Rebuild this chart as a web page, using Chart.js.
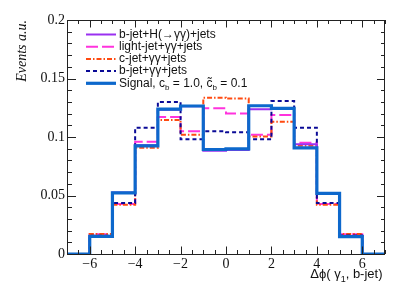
<!DOCTYPE html>
<html>
<head>
<meta charset="utf-8">
<script src="https://cdn.jsdelivr.net/npm/chart.js@4/dist/chart.umd.min.js"></script>
<style>
html,body{margin:0;padding:0;background:#fff;}
#wrap{width:400px;height:294px;position:relative;}
</style>
</head>
<body>
<div id="wrap"><canvas id="c" width="400" height="294"></canvas></div>
<script>
// Bin edges (x) of the histograms
const binEdges = [-7,-6,-5,-4,-3,-2,-1,0,1,2,3,4,5,6,7];
// Bin contents (14 bins)
const signal    = [0, 0.0150, 0.0522, 0.0924, 0.1238, 0.1265, 0.0893, 0.0898, 0.1267, 0.1245, 0.0907, 0.0519, 0.0148, 0];
const bjetH     = [0, 0.0152, 0.0525, 0.0930, 0.1232, 0.1262, 0.0883, 0.0889, 0.1237, 0.1240, 0.0937, 0.0522, 0.0150, 0];
const lightJet  = [0, 0.0168, 0.0428, 0.0960, 0.1170, 0.1050, 0.1245, 0.1200, 0.1020, 0.1188, 0.0950, 0.0428, 0.0168, 0];
const cJet      = [0, 0.0172, 0.0420, 0.0908, 0.1145, 0.1020, 0.1335, 0.1328, 0.1005, 0.1130, 0.0925, 0.0420, 0.0172, 0];
const bJet      = [0, 0.0155, 0.0435, 0.1080, 0.1300, 0.0980, 0.1050, 0.1040, 0.0980, 0.1308, 0.1080, 0.0435, 0.0158, 0];
// Tick labels
const xTickValues = [-6,-4,-2,0,2,4,6];
const xTickLabels = ['\u22126','\u22124','\u22122','0','2','4','6'];
const yTickValues = [0,0.05,0.1,0.15,0.2];
const yTickLabels = ['0','0.05','0.1','0.15','0.2'];
const legendLabels = ['b-jet+H(\u2192\u03b3\u03b3)+jets','light-jet+\u03b3\u03b3+jets','c-jet+\u03b3\u03b3+jets','b-jet+\u03b3\u03b3+jets','Signal, c_{b} = 1.0, c\u0303_{b} = 0.1'];
const xTitle = '\u0394\u03d5( \u03b3_{1}, b-jet)';
const yTitle = 'Events a.u.';

function toPoints(vals){
  const pts = vals.map((v,i)=>({x:binEdges[i], y:v}));
  pts.push({x:binEdges[binEdges.length-1], y:vals[vals.length-1]});
  return pts;
}

const series = [
  {label: legendLabels[0], data: bjetH,    color:'#9a30f0', width:2,   dash:[],          order:1},
  {label: legendLabels[1], data: lightJet, color:'#ff33dd', width:2,   dash:[12,4],      order:4},
  {label: legendLabels[2], data: cJet,     color:'#ff4a10', width:2,   dash:[5,2,1.5,2], order:3},
  {label: legendLabels[3], data: bJet,     color:'#0a0a96', width:2,   dash:[4,3],       order:2},
  {label: legendLabels[4], data: signal,   color:'#0d68cc', width:3.2, dash:[],          order:0}
];

const datasets = series.map(s=>({
  label: s.label,
  data: toPoints(s.data),
  borderColor: s.color,
  borderWidth: s.width,
  borderDash: s.dash,
  stepped: true,
  fill: false,
  pointRadius: 0,
  order: s.order,
  tension: 0
}));

function drawRich(ctx, text, x, y, size, family, subDrop){
  const parts = [];
  const re = /_\{([^}]*)\}/g;
  let last = 0, m;
  while((m = re.exec(text))){
    if(m.index>last) parts.push({t:text.slice(last,m.index), sub:false});
    parts.push({t:m[1], sub:true});
    last = re.lastIndex;
  }
  if(last<text.length) parts.push({t:text.slice(last), sub:false});
  let cx = x;
  ctx.textAlign='left';
  ctx.textBaseline='middle';
  for(const p of parts){
    if(p.sub){
      ctx.font = Math.round(size*0.7)+'px '+family;
      ctx.fillText(p.t, cx, y+size*(subDrop||0.35));
    } else {
      ctx.font = size+'px '+family;
      ctx.fillText(p.t, cx, y);
    }
    cx += ctx.measureText(p.t).width;
  }
  return cx - x;
}
function measureRich(ctx, text, size, family){
  const re = /_\{([^}]*)\}/g;
  let w=0,last=0,m;
  while((m=re.exec(text))){
    ctx.font = size+'px '+family; w += ctx.measureText(text.slice(last,m.index)).width;
    ctx.font = Math.round(size*0.7)+'px '+family; w += ctx.measureText(m[1]).width;
    last = re.lastIndex;
  }
  ctx.font = size+'px '+family; w += ctx.measureText(text.slice(last)).width;
  return w;
}

const framePlugin = {
  id:'frame',
  afterDatasetsDraw(chart){
    const ctx = chart.ctx, a = chart.chartArea;
    const xs = chart.scales.x, ys = chart.scales.y;
    ctx.save();
    ctx.strokeStyle = '#222';
    ctx.lineWidth = 1;
    ctx.setLineDash([]);
    ctx.strokeRect(Math.round(a.left)+0.5, Math.round(a.top)+0.5, Math.round(a.right-a.left)-1, Math.round(a.bottom-a.top));
    ctx.beginPath();
    for(let k=-14;k<=14;k++){
      const v = k*0.5;
      const px = Math.round(xs.getPixelForValue(v))+0.5;
      const major = xTickValues.includes(v);
      const len = major ? 7.5 : 4;
      ctx.moveTo(px, a.bottom); ctx.lineTo(px, a.bottom-len);
      ctx.moveTo(px, a.top); ctx.lineTo(px, a.top+len);
    }
    for(let k=0;k<=20;k++){
      const v = k*0.01;
      const py = Math.round(ys.getPixelForValue(v))+0.5;
      const major = (k%5===0);
      const len = major ? 9 : 5;
      const lenR = major ? 8 : 4;
      ctx.moveTo(a.left, py); ctx.lineTo(a.left+len, py);
      ctx.moveTo(a.right, py); ctx.lineTo(a.right-lenR, py);
    }
    ctx.stroke();

    // legend
    const fam = '"Liberation Sans", Arial, sans-serif';
    const size = 12;
    const x0 = 86, x1 = 116, tx = 119;
    [0,1,2,3,4].forEach((i,r)=>{
      const s = series[i];
      const y = 34.5 + r*12.2;
      ctx.beginPath();
      ctx.strokeStyle = s.color;
      ctx.lineWidth = s.width;
      ctx.setLineDash(s.dash);
      ctx.moveTo(x0,y); ctx.lineTo(x1,y);
      ctx.stroke();
      ctx.setLineDash([]);
      ctx.fillStyle = '#111';
      drawRich(ctx, legendLabels[i], tx, y, size, fam, 0.35);
    });

    // x title (right aligned)
    ctx.fillStyle = '#111';
    const w = measureRich(ctx, xTitle, 13, fam);
    drawRich(ctx, xTitle, a.right - 2.5 - w, 274, 13, fam, 0.4);
    ctx.restore();
  }
};

new Chart(document.getElementById('c'), {
  type:'line',
  data:{datasets},
  options:{
    responsive:false,
    animation:false,
    devicePixelRatio:1,
    layout:{padding:{top:20,right:15,left:0,bottom:0}},
    plugins:{legend:{display:false}, tooltip:{enabled:false}},
    scales:{
      x:{
        type:'linear', min:-7, max:7,
        grid:{display:false, drawTicks:false},
        border:{display:false},
        afterBuildTicks(scale){ scale.ticks = xTickValues.map(v=>({value:v})); },
        afterFit(scale){ scale.height = 40; },
        ticks:{
          autoSkip:false, maxRotation:0, padding:2,
          font:{family:'"Liberation Serif", "Times New Roman", serif', size:14},
          color:'#111',
          callback:(v)=>{ const i = xTickValues.indexOf(v); return i>=0 ? xTickLabels[i] : ''; }
        }
      },
      y:{
        type:'linear', min:0, max:0.2,
        grid:{display:false, drawTicks:false},
        border:{display:false},
        afterBuildTicks(scale){ scale.ticks = yTickValues.map(v=>({value:v})); },
        afterFit(scale){ scale.width = 67; },
        ticks:{
          autoSkip:false, padding:2,
          font:{family:'"Liberation Serif", "Times New Roman", serif', size:14},
          color:'#111',
          callback:(v)=>{ const i = yTickValues.findIndex(t=>Math.abs(t-v)<1e-9); return i>=0 ? yTickLabels[i] : ''; }
        },
        title:{
          display:true, text:yTitle, align:'end',
          font:{family:'"Liberation Serif", "Times New Roman", serif', size:14, style:'italic'},
          color:'#111',
          padding:{top:14,bottom:0}
        }
      }
    }
  },
  plugins:[framePlugin]
});
</script>
</body>
</html>
